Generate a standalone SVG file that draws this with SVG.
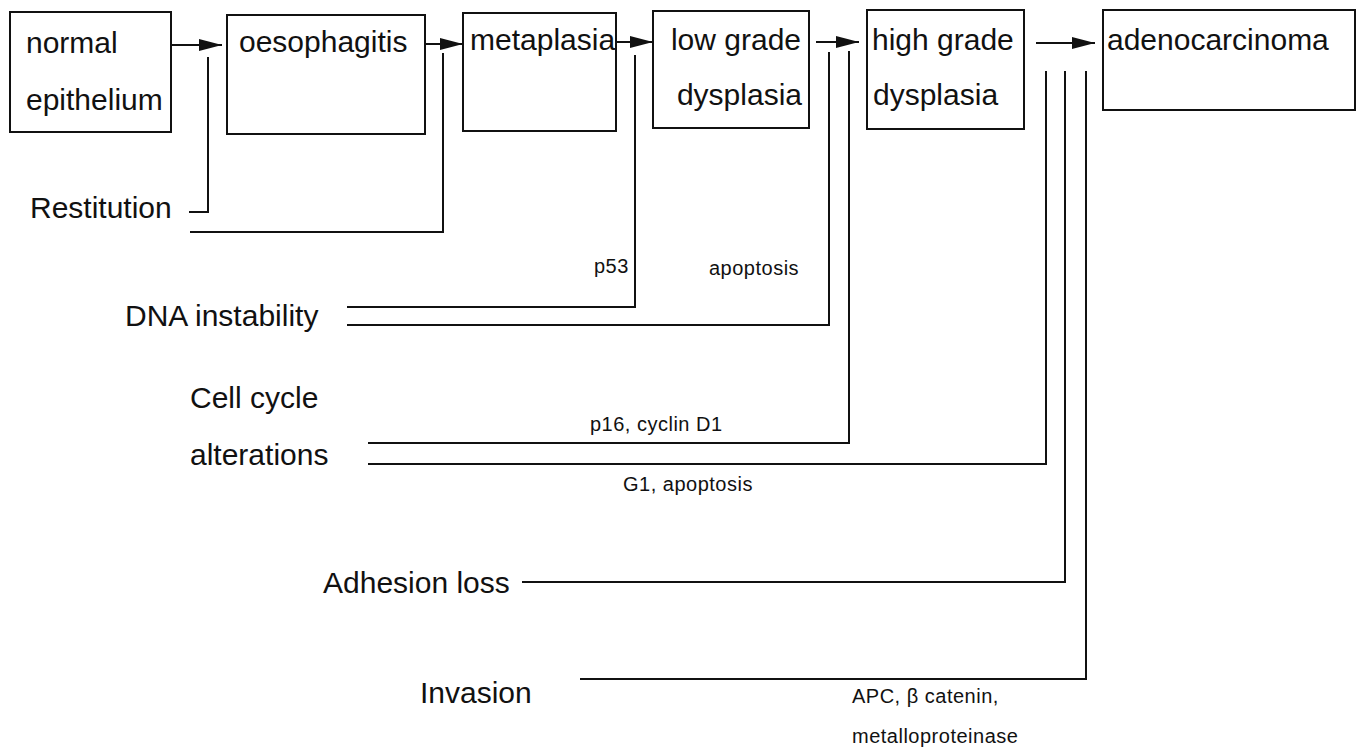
<svg xmlns="http://www.w3.org/2000/svg" width="1356" height="752" viewBox="0 0 1356 752">
<style>
.box{fill:#fff;stroke:#111;stroke-width:2}
.t{font-family:"Liberation Sans",Arial,sans-serif;font-size:30px;fill:#111}
.s{font-family:"Liberation Sans",Arial,sans-serif;font-size:20px;fill:#111;letter-spacing:0.5px}
.ln{fill:none;stroke:#111;stroke-width:2}
.arr{fill:none;stroke:#111;stroke-width:2;marker-end:url(#ah)}
</style>
<defs>
<marker id="ah" markerUnits="userSpaceOnUse" markerWidth="26" markerHeight="14" refX="23" refY="6" orient="auto">
<path d="M0,0 L23,6 L0,12 z" fill="#111"/>
</marker>
</defs>
<rect width="1356" height="752" fill="#fff"/>
<g id="n1"><rect class="box" x="10" y="12" width="161" height="120"/><text class="t" x="26" y="53">normal</text><text class="t" x="26" y="110">epithelium</text></g>
<g id="n2"><rect class="box" x="227" y="15" width="198" height="119"/><text class="t" x="239" y="52">oesophagitis</text></g>
<g id="n3"><rect class="box" x="463" y="13" width="153" height="118"/><text class="t" x="470" y="50">metaplasia</text></g>
<g id="n4"><rect class="box" x="653" y="11" width="156" height="117"/><text class="t" x="801" y="50" text-anchor="end">low grade</text><text class="t" x="802" y="105" text-anchor="end">dysplasia</text></g>
<g id="n5"><rect class="box" x="867" y="10" width="157" height="119"/><text class="t" x="872" y="50">high grade</text><text class="t" x="873" y="105">dysplasia</text></g>
<g id="n6"><rect class="box" x="1103" y="10" width="252" height="100"/><text class="t" x="1107" y="50">adenocarcinoma</text></g>
<g id="labels">
<text class="t" x="30" y="218">Restitution</text>
<text class="t" x="125" y="326">DNA instability</text>
<text class="t" x="190" y="408">Cell cycle</text>
<text class="t" x="190" y="465">alterations</text>
<text class="t" x="323" y="593">Adhesion loss</text>
<text class="t" x="420" y="703">Invasion</text>
<text class="s" x="594" y="273">p53</text>
<text class="s" x="709" y="275">apoptosis</text>
<text class="s" x="590" y="431">p16, cyclin D1</text>
<text class="s" x="623" y="491">G1, apoptosis</text>
<text class="s" x="852" y="703">APC, β catenin,</text>
<text class="s" x="852" y="743">metalloproteinase</text>
</g>
<g id="connectors">
<line class="arr" x1="171" y1="45" x2="222" y2="45"/>
<line class="arr" x1="425" y1="44" x2="463" y2="44"/>
<line class="arr" x1="616" y1="42" x2="653" y2="42"/>
<line class="arr" x1="816" y1="42" x2="859" y2="42"/>
<line class="arr" x1="1036" y1="43" x2="1095" y2="43"/>
<polyline class="ln" points="189,212 208,212 208,57"/>
<polyline class="ln" points="190,232 443,232 443,53"/>
<polyline class="ln" points="347,307 635,307 635,55"/>
<polyline class="ln" points="347,325 829,325 829,52"/>
<polyline class="ln" points="368,443 849,443 849,51"/>
<polyline class="ln" points="368,464 1046,464 1046,71"/>
<polyline class="ln" points="522,582 1065,582 1065,71"/>
<polyline class="ln" points="580,679 1086,679 1086,71"/>
</g>
</svg>
